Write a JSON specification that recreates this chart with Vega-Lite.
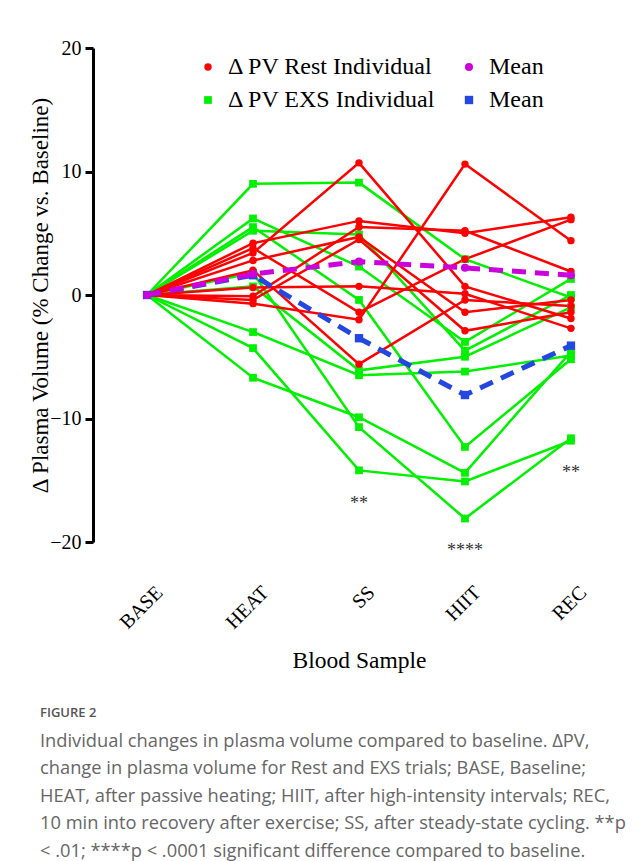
{
  "$schema": "https://vega.github.io/schema/vega-lite/v6.json",
  "width": 532,
  "height": 494,
  "autosize": {"type": "none"},
  "padding": {"left": 93, "top": 48, "right": 16, "bottom": 319},
  "background": "white",
  "config": {
    "view": {"stroke": null},
    "font": "Liberation Serif",
    "legend": {
      "orient": "none",
      "legendX": 103,
      "legendY": 7,
      "columns": 2,
      "columnPadding": 20,
      "rowPadding": 9,
      "labelFont": "Liberation Serif",
      "labelFontSize": 24,
      "labelColor": "black",
      "labelOffset": 8,
      "labelLimit": 300,
      "symbolStrokeWidth": 0
    }
  },
  "datasets": {
    "exs": [
      {"id": "E1", "t": "BASE", "v": 0}, {"id": "E1", "t": "HEAT", "v": 9.0}, {"id": "E1", "t": "SS", "v": 9.1}, {"id": "E1", "t": "HIIT", "v": 2.9}, {"id": "E1", "t": "REC", "v": -0.2},
      {"id": "E2", "t": "BASE", "v": 0}, {"id": "E2", "t": "HEAT", "v": 6.2}, {"id": "E2", "t": "SS", "v": 2.3}, {"id": "E2", "t": "HIIT", "v": -3.8}, {"id": "E2", "t": "REC", "v": 1.3},
      {"id": "E3", "t": "BASE", "v": 0}, {"id": "E3", "t": "HEAT", "v": 5.5}, {"id": "E3", "t": "SS", "v": -0.4}, {"id": "E3", "t": "HIIT", "v": -12.3}, {"id": "E3", "t": "REC", "v": -5.2},
      {"id": "E4", "t": "BASE", "v": 0}, {"id": "E4", "t": "HEAT", "v": 5.2}, {"id": "E4", "t": "SS", "v": 4.9}, {"id": "E4", "t": "HIIT", "v": -4.5}, {"id": "E4", "t": "REC", "v": 0.0},
      {"id": "E5", "t": "BASE", "v": 0}, {"id": "E5", "t": "HEAT", "v": 1.8}, {"id": "E5", "t": "SS", "v": -10.7}, {"id": "E5", "t": "HIIT", "v": -18.1}, {"id": "E5", "t": "REC", "v": -11.6},
      {"id": "E6", "t": "BASE", "v": 0}, {"id": "E6", "t": "HEAT", "v": 0.7}, {"id": "E6", "t": "SS", "v": -6.1}, {"id": "E6", "t": "HIIT", "v": -5.0}, {"id": "E6", "t": "REC", "v": -1.0},
      {"id": "E7", "t": "BASE", "v": 0}, {"id": "E7", "t": "HEAT", "v": -3.0}, {"id": "E7", "t": "SS", "v": -6.5}, {"id": "E7", "t": "HIIT", "v": -6.2}, {"id": "E7", "t": "REC", "v": -4.9},
      {"id": "E8", "t": "BASE", "v": 0}, {"id": "E8", "t": "HEAT", "v": -4.3}, {"id": "E8", "t": "SS", "v": -14.2}, {"id": "E8", "t": "HIIT", "v": -15.1}, {"id": "E8", "t": "REC", "v": -11.8},
      {"id": "E9", "t": "BASE", "v": 0}, {"id": "E9", "t": "HEAT", "v": -6.7}, {"id": "E9", "t": "SS", "v": -9.9}, {"id": "E9", "t": "HIIT", "v": -14.4}, {"id": "E9", "t": "REC", "v": -4.6}
    ],
    "rest": [
      {"id": "R1", "t": "BASE", "v": 0}, {"id": "R1", "t": "HEAT", "v": 3.4}, {"id": "R1", "t": "SS", "v": 10.7}, {"id": "R1", "t": "HIIT", "v": 0.7}, {"id": "R1", "t": "REC", "v": -1.9},
      {"id": "R2", "t": "BASE", "v": 0}, {"id": "R2", "t": "HEAT", "v": 2.0}, {"id": "R2", "t": "SS", "v": -5.6}, {"id": "R2", "t": "HIIT", "v": -0.4}, {"id": "R2", "t": "REC", "v": -0.9},
      {"id": "R3", "t": "BASE", "v": 0}, {"id": "R3", "t": "HEAT", "v": 4.2}, {"id": "R3", "t": "SS", "v": 6.0}, {"id": "R3", "t": "HIIT", "v": 5.0}, {"id": "R3", "t": "REC", "v": 6.3},
      {"id": "R4", "t": "BASE", "v": 0}, {"id": "R4", "t": "HEAT", "v": 3.8}, {"id": "R4", "t": "SS", "v": -1.4}, {"id": "R4", "t": "HIIT", "v": 2.9}, {"id": "R4", "t": "REC", "v": 6.1},
      {"id": "R5", "t": "BASE", "v": 0}, {"id": "R5", "t": "HEAT", "v": 2.8}, {"id": "R5", "t": "SS", "v": 4.7}, {"id": "R5", "t": "HIIT", "v": -1.4}, {"id": "R5", "t": "REC", "v": -0.4},
      {"id": "R6", "t": "BASE", "v": 0}, {"id": "R6", "t": "HEAT", "v": 0.6}, {"id": "R6", "t": "SS", "v": 0.7}, {"id": "R6", "t": "HIIT", "v": 0.1}, {"id": "R6", "t": "REC", "v": -2.7},
      {"id": "R7", "t": "BASE", "v": 0}, {"id": "R7", "t": "HEAT", "v": -0.1}, {"id": "R7", "t": "SS", "v": 5.5}, {"id": "R7", "t": "HIIT", "v": 5.2}, {"id": "R7", "t": "REC", "v": 1.9},
      {"id": "R8", "t": "BASE", "v": 0}, {"id": "R8", "t": "HEAT", "v": -0.4}, {"id": "R8", "t": "SS", "v": 4.5}, {"id": "R8", "t": "HIIT", "v": -2.9}, {"id": "R8", "t": "REC", "v": -1.4},
      {"id": "R9", "t": "BASE", "v": 0}, {"id": "R9", "t": "HEAT", "v": -0.7}, {"id": "R9", "t": "SS", "v": -2.0}, {"id": "R9", "t": "HIIT", "v": 10.6}, {"id": "R9", "t": "REC", "v": 4.4}
    ],
    "meanexs": [
      {"t": "BASE", "v": 0}, {"t": "HEAT", "v": 1.6}, {"t": "SS", "v": -3.5}, {"t": "HIIT", "v": -8.1}, {"t": "REC", "v": -4.1}
    ],
    "meanrest": [
      {"t": "BASE", "v": 0}, {"t": "HEAT", "v": 1.7}, {"t": "SS", "v": 2.7}, {"t": "HIIT", "v": 2.2}, {"t": "REC", "v": 1.6}
    ],
    "stars": [
      {"t": "SS", "v": -16.9, "label": "**"},
      {"t": "HIIT", "v": -20.7, "label": "****"},
      {"t": "REC", "v": -14.4, "label": "**"}
    ]
  },
  "title": {
    "text": "FIGURE 2",
    "subtitle": [
      "Individual changes in plasma volume compared to baseline. ΔPV,",
      "change in plasma volume for Rest and EXS trials; BASE, Baseline;",
      "HEAT, after passive heating; HIIT, after high-intensity intervals; REC,",
      "10 min into recovery after exercise; SS, after steady-state cycling. **p",
      "< .01; ****p < .0001 significant difference compared to baseline."
    ],
    "orient": "bottom",
    "anchor": "start",
    "frame": "group",
    "dx": -53,
    "offset": 35,
    "font": "Open Sans",
    "fontSize": 13,
    "fontWeight": 600,
    "color": "#555555",
    "subtitleFont": "Open Sans",
    "subtitleFontSize": 18.3,
    "subtitleColor": "#666666",
    "subtitleLineHeight": 27.5,
    "subtitlePadding": 13
  },
  "layer": [
    {
      "mark": {"type": "rule", "strokeWidth": 3, "color": "black"},
      "encoding": {
        "y": {"datum": 0, "type": "quantitative", "scale": {"domain": [-20, 20], "nice": false}}
      }
    },
    {
      "data": {"name": "exs"},
      "mark": {"type": "line", "color": "#00F000", "strokeWidth": 2.5},
      "encoding": {
        "x": {"field": "t", "type": "ordinal", "scale": {"type": "point", "domain": ["BASE", "HEAT", "SS", "HIIT", "REC"], "padding": 0.51},
          "axis": {"labelAngle": -45, "domain": false, "ticks": false, "title": "Blood Sample", "labelFont": "Liberation Serif", "labelFontSize": 20, "labelColor": "black", "labelPadding": 40, "labelOffset": 5, "titleFont": "Liberation Serif", "titleFontSize": 23.5, "titleFontWeight": "normal", "titleColor": "black", "titlePadding": 16}},
        "y": {"field": "v", "type": "quantitative", "scale": {"domain": [-20, 20], "nice": false},
          "axis": {"values": [-20, -10, 0, 10, 20], "grid": false, "domainWidth": 3, "domainColor": "black", "tickWidth": 3, "tickColor": "black", "tickSize": 8, "labelFont": "Liberation Serif", "labelFontSize": 20, "labelColor": "black", "labelPadding": 4, "title": "Δ Plasma Volume (% Change vs. Baseline)", "titleFont": "Liberation Serif", "titleFontSize": 23, "titleFontWeight": "normal", "titleColor": "black", "titlePadding": -3}},
        "detail": {"field": "id"}
      }
    },
    {
      "data": {"name": "rest"},
      "mark": {"type": "line", "color": "#FF0000", "strokeWidth": 2.5},
      "encoding": {
        "x": {"field": "t", "type": "ordinal"},
        "y": {"field": "v", "type": "quantitative"},
        "detail": {"field": "id"}
      }
    },
    {
      "data": {"name": "exs"},
      "transform": [{"filter": "datum.t !== 'BASE'"}],
      "mark": {"type": "point", "filled": true, "opacity": 1},
      "encoding": {
        "x": {"field": "t", "type": "ordinal"},
        "y": {"field": "v", "type": "quantitative"},
        "color": {"datum": "Δ PV EXS Individual", "type": "nominal"},
        "shape": {"datum": "Δ PV EXS Individual", "type": "nominal"},
        "size": {"datum": "Δ PV EXS Individual", "type": "nominal"}
      }
    },
    {
      "data": {"name": "rest"},
      "transform": [{"filter": "datum.t !== 'BASE'"}],
      "mark": {"type": "point", "filled": true, "opacity": 1},
      "encoding": {
        "x": {"field": "t", "type": "ordinal"},
        "y": {"field": "v", "type": "quantitative"},
        "color": {"datum": "Δ PV Rest Individual", "type": "nominal"},
        "shape": {"datum": "Δ PV Rest Individual", "type": "nominal"},
        "size": {"datum": "Δ PV Rest Individual", "type": "nominal"}
      }
    },
    {
      "data": {"name": "meanexs"},
      "mark": {"type": "line", "color": "#2347E0", "strokeWidth": 5, "strokeDash": [14, 9]},
      "encoding": {
        "x": {"field": "t", "type": "ordinal"},
        "y": {"field": "v", "type": "quantitative"}
      }
    },
    {
      "data": {"name": "meanexs"},
      "mark": {"type": "point", "filled": true, "opacity": 1},
      "encoding": {
        "x": {"field": "t", "type": "ordinal"},
        "y": {"field": "v", "type": "quantitative"},
        "color": {"datum": "Mean ", "type": "nominal"},
        "shape": {"datum": "Mean ", "type": "nominal"},
        "size": {"datum": "Mean ", "type": "nominal"}
      }
    },
    {
      "data": {"name": "meanrest"},
      "mark": {"type": "line", "color": "#CC00DD", "strokeWidth": 5, "strokeDash": [14, 9]},
      "encoding": {
        "x": {"field": "t", "type": "ordinal"},
        "y": {"field": "v", "type": "quantitative"}
      }
    },
    {
      "data": {"name": "meanrest"},
      "mark": {"type": "point", "filled": true, "opacity": 1},
      "encoding": {
        "x": {"field": "t", "type": "ordinal"},
        "y": {"field": "v", "type": "quantitative"},
        "color": {"datum": "Mean", "type": "nominal",
          "scale": {"domain": ["Δ PV Rest Individual", "Δ PV EXS Individual", "Mean", "Mean "], "range": ["#FF0000", "#00F000", "#CC00DD", "#2347E0"]},
          "legend": {"title": null}},
        "shape": {"datum": "Mean", "type": "nominal",
          "scale": {"domain": ["Δ PV Rest Individual", "Δ PV EXS Individual", "Mean", "Mean "], "range": ["circle", "square", "circle", "square"]}},
        "size": {"datum": "Mean", "type": "nominal",
          "scale": {"domain": ["Δ PV Rest Individual", "Δ PV EXS Individual", "Mean", "Mean "], "range": [55, 70, 190, 200]}}
      }
    },
    {
      "data": {"name": "stars"},
      "mark": {"type": "text", "font": "Liberation Serif", "fontSize": 18, "color": "#333333", "baseline": "middle"},
      "encoding": {
        "x": {"field": "t", "type": "ordinal"},
        "y": {"field": "v", "type": "quantitative"},
        "text": {"field": "label"}
      }
    }
  ]
}
